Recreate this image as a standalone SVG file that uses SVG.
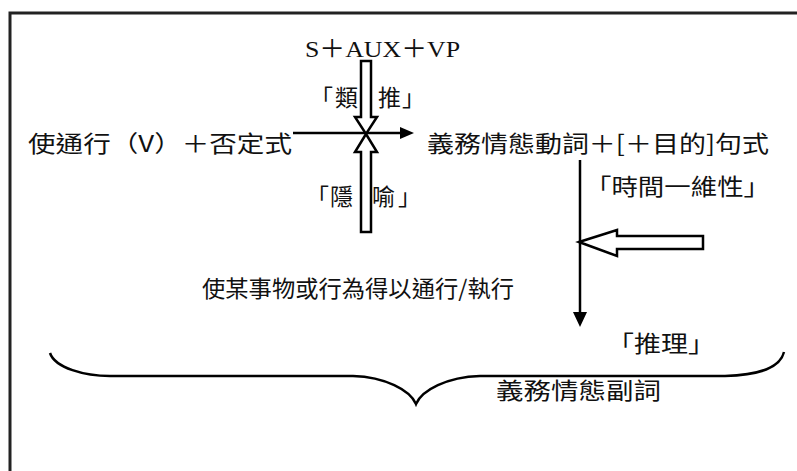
<svg xmlns="http://www.w3.org/2000/svg" width="797" height="471" viewBox="0 0 797 471">
<style>
.t{font-family:"Noto Sans CJK TC","Noto Sans CJK SC",sans-serif;font-size:23px;fill:#111}
.s{font-family:"Liberation Serif","Noto Sans CJK TC",serif;font-size:24px;fill:#111}
.ln{stroke:#000;stroke-width:2.5;fill:none}
.hollow{fill:#fff;stroke:#000;stroke-width:2.5;stroke-linejoin:miter}
.head{fill:#000;stroke:none}
</style>
<rect width="797" height="471" fill="#fff"/>
<path d="M10,471 V13 H797" fill="none" stroke="#222" stroke-width="3"/>

<g id="node-svp"><text class="s" x="305" y="57" textLength="155" lengthAdjust="spacingAndGlyphs">S＋AUX＋VP</text></g>
<g id="node-leitui"><text class="t" x="310 335 378 402" y="106">「類推」</text></g>
<g id="node-yinyu"><text class="t" x="306 330 372 398" y="205">「隱喻」</text></g>
<g id="node-source"><text class="t" x="28" y="152" textLength="264" lengthAdjust="spacingAndGlyphs">使通行（V）＋否定式</text></g>
<g id="node-target"><text class="t" x="427" y="152" textLength="342" lengthAdjust="spacingAndGlyphs">義務情態動詞＋[＋目的]句式</text></g>
<g id="node-time"><text class="t" x="585" y="195" textLength="185" lengthAdjust="spacingAndGlyphs">「時間一維性」</text></g>
<g id="node-meaning"><text class="t" x="202" y="297" textLength="312" lengthAdjust="spacingAndGlyphs">使某事物或行為得以通行/執行</text></g>
<g id="node-tuili"><text class="t" x="607" y="352" textLength="108" lengthAdjust="spacingAndGlyphs">「推理」</text></g>
<g id="node-adverb"><text class="t" x="496" y="399" textLength="165" lengthAdjust="spacingAndGlyphs">義務情態副詞</text></g>

<g id="connectors">
  <line class="ln" x1="293" y1="133" x2="402" y2="133"/>
  <polygon class="head" points="400,127 414,133 400,139"/>
  <polygon class="hollow" points="361,61 371,61 371,117 377,117 366,134 355,117 361,117"/>
  <polygon class="hollow" points="366,134 377,152 371,152 371,232 361,232 361,152 355,152"/>
  <line class="ln" x1="580" y1="160" x2="580" y2="314"/>
  <polygon class="head" points="573,312 587,312 580,327"/>
  <polygon class="hollow" points="579,242 617,230 617,236 703,236 703,249 617,249 617,256"/>
  <path class="ln" d="M50,353 C55,368 85,376 110,376 H353 C385,377 410,390 416,404 C422,390 447,377 480,376 H725 C760,375 780,368 784,352"/>
</g>
</svg>
